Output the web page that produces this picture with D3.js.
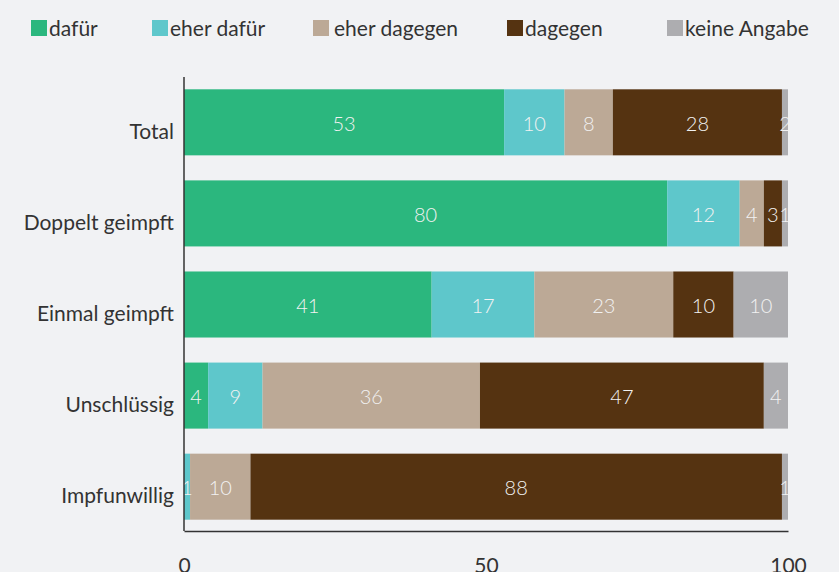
<!DOCTYPE html>
<html><head><meta charset="utf-8">
<script src="https://cdn.jsdelivr.net/npm/d3@7"></script>
<style>
html,body{margin:0;padding:0;background:#f1f2f4;}
svg{display:block;font-family:Lato,"Open Sans",sans-serif;}
</style></head><body>
<svg id="c" width="839" height="572"></svg>
<script>
const categories = ["Total","Doppelt geimpft","Einmal geimpft","Unschlüssig","Impfunwillig"];
const seriesNames = ["dafür","eher dafür","eher dagegen","dagegen","keine Angabe"];
const dafuer      = [53, 80, 41, 4, 0];
const eherDafuer  = [10, 12, 17, 9, 1];
const eherDagegen = [8, 4, 23, 36, 10];
const dagegen     = [28, 3, 10, 47, 88];
const keineAngabe = [2, 1, 10, 4, 1];
const xTicks = [0, 50, 100];
const colors = ["#2bb77e","#5ec7cb","#bca996","#553311","#adadb0"];

const series = [dafuer, eherDafuer, eherDagegen, dagegen, keineAngabe];
const svg = d3.select("#c");
const x = d3.scaleLinear().domain([0,100]).range([184,788]).clamp(true);
const y = d3.scaleBand().domain(categories).range([77,532]).paddingInner(0.275).paddingOuter(0.135);

// stacked data (rounded values; last segment capped at 100)
const rows = categories.map((c,i)=>{
  let acc = 0;
  return series.map((s,j)=>{ const v=s[i]; const x0=acc; acc+=v; return {cat:c, v, j, x0, x1:Math.min(acc,100)}; });
});

const g = svg.append("g");
rows.forEach(r=>{
  r.forEach(d=>{
    if(d.v<=0) return;
    g.append("rect").attr("x",x(d.x0)).attr("y",y(d.cat)).attr("width",Math.max(0,x(d.x1)-x(d.x0))).attr("height",y.bandwidth()).attr("fill",colors[d.j]);
  });
});
rows.forEach(r=>{
  r.forEach(d=>{
    if(d.v<=0) return;
    g.append("text").attr("x",(x(d.x0)+x(d.x1))/2).attr("y",y(d.cat)+y.bandwidth()/2+1.5).attr("dy","0.35em")
      .attr("text-anchor","middle").attr("fill","#f2f2f2").attr("font-size",20).attr("font-weight",300).text(d.v);
  });
});

// y axis
const ya = svg.append("g").attr("transform","translate(184,9.5)").call(d3.axisLeft(y).tickSize(0).tickPadding(10));
ya.select(".domain").remove();
ya.selectAll("text").attr("font-size",21).attr("fill","#333").attr("font-family","Lato,'Open Sans',sans-serif");
svg.append("line").attr("x1",184).attr("x2",184).attr("y1",77).attr("y2",531).attr("stroke","#333").attr("stroke-width",1.5);

// x axis
const xa = svg.append("g").attr("transform","translate(0,531)").call(d3.axisBottom(x).tickValues(xTicks).tickSize(0).tickPadding(27));
xa.select(".domain").attr("stroke","#333").attr("stroke-width",1.5);
xa.selectAll("text").attr("font-size",21).attr("fill","#333").attr("font-family","Lato,'Open Sans',sans-serif");

// legend
const legX = [31,152,313,507,667];
const lg = svg.append("g");
seriesNames.forEach((n,i)=>{
  lg.append("rect").attr("x",legX[i]).attr("y",20).attr("width",16).attr("height",16).attr("fill",colors[i]);
  lg.append("text").attr("x",legX[i]+(i==2?21:18)).attr("y",36).attr("font-size",21).attr("fill","#333").text(n);
});
</script>
</body></html>
